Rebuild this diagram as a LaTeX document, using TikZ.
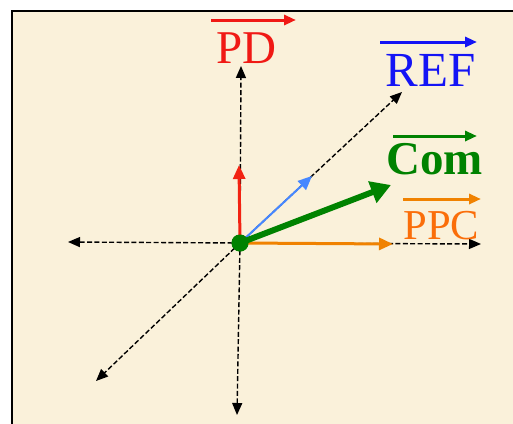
\documentclass[tikz,border=0pt]{standalone}
\usepackage{fontspec}
\setmainfont{Liberation Serif}
\usepackage{tikz}
\usetikzlibrary{positioning,arrows.meta,calc}
\definecolor{parch}{RGB}{250,241,218}
\definecolor{pdred}{RGB}{240,25,20}
\definecolor{refblue}{RGB}{20,20,245}
\definecolor{lblue}{RGB}{70,135,255}
\definecolor{cgreen}{RGB}{0,130,0}
\definecolor{porange}{RGB}{240,130,0}
\definecolor{ptxt}{RGB}{250,110,10}

\begin{document}
\begin{tikzpicture}[x=0.5pt,y=-0.5pt,
        axis/.style={draw=black,line width=0.7pt,dash pattern=on 2.5pt off 1.2pt,
          -{Triangle[length=6pt,width=5pt]}},
        vec/.style={line width=1.5pt,-{Triangle[length=7pt,width=6pt]}},
        bar/.style={line width=1.5pt,-{Triangle[length=6pt,width=5pt]}},
        lbl/.style={anchor=base west,inner sep=0pt}]
        \useasboundingbox (0,0) rectangle (513,423);
        \fill[white] (0,0) rectangle (513,423);
        \draw[fill=parch,line width=1pt] (12,11) rectangle (540,450);
        % origin and axis ends
        \node[circle,fill=cgreen,inner sep=0pt,minimum size=8.5pt](O) at (240,243){};
        \coordinate (xp) at (481,244);
        \coordinate (xm) at (68,242);
        \coordinate (yp) at (241,66);
        \coordinate (ym) at (237,415);
        \coordinate (zp) at (402,92);
        \coordinate (zm) at (96,381);
        \foreach \e in {xp,xm,yp,ym,zp,zm}{\draw[axis](O.center)--(\e);}
        % vectors
        \coordinate (pd) at (239,165);
        \coordinate (ref) at (312,176);
        \coordinate (com) at (391,185);
        \coordinate (ppc) at (393,244);
        \draw[vec,draw=pdred!90!orange,fill=pdred!90!orange](O.center)--(pd);
        \draw[vec,line width=1pt,draw=lblue,-{Triangle[length=7pt,width=6pt]}](O.center)--(ref);
        \draw[vec,draw=porange,fill=porange](O.center)--(ppc);
        \draw[draw=cgreen,line width=3pt,-{Triangle[length=10pt,width=11pt]}](O.center)--(com);
        \node[circle,fill=cgreen,inner sep=0pt,minimum size=8.5pt] at (O){};
        % labels
        \node[lbl,text=pdred,font=\fontsize{23.5}{28}\selectfont](PD) at (216,63){PD};
        \node[lbl,text=refblue,font=\fontsize{24.5}{29}\selectfont](REF) at (385,86){REF};
        \node[lbl,text=cgreen,font=\fontsize{23.5}{28}\selectfont\bfseries](Com) at (386,174){Com};
        \node[lbl,text=ptxt,font=\fontsize{21.3}{26}\selectfont](PPC) at (403,239){PPC};
        \draw[bar,draw=pdred]($(PD.base west)+(-5,-43)$)--($(PD.base west)+(80,-43)$);
        \draw[bar,draw=refblue]($(REF.base west)+(-5,-44)$)--($(REF.base west)+(92,-44)$);
        \draw[bar,draw=cgreen]($(Com.base west)+(7,-38)$)--($(Com.base west)+(91,-38)$);
        \draw[bar,draw=porange]($(PPC.base west)+(0,-40)$)--($(PPC.base west)+(78,-40)$);
      \end{tikzpicture}
\end{document}
